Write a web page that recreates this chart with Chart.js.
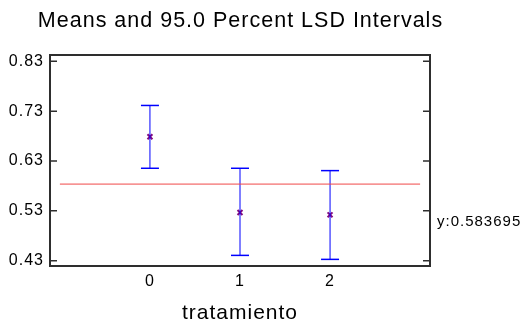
<!DOCTYPE html>
<html>
<head>
<meta charset="utf-8">
<script src="https://cdn.jsdelivr.net/npm/chart.js@4"></script>
<style>
  html, body { margin: 0; padding: 0; background: #fff; }
  #chart { display: block; }
</style>
</head>
<body>
<canvas id="chart" width="523" height="323"></canvas>
<script>
// data
const categories = ["0", "1", "2"];
const catPos = [0, 1, 2];
const means = [0.6786, 0.5267, 0.5220];
const lower = [0.6154, 0.4407, 0.4327];
const upper = [0.7414, 0.6154, 0.6107];
const grandMean = 0.583695;
const lineFrom = -1;
const lineTo = 3;
const yTicks = [0.43, 0.53, 0.63, 0.73, 0.83];
const chartTitle = "Means and 95.0 Percent LSD Intervals";

const FONT = "'Liberation Sans', Arial, sans-serif";

// error bars: one small scatter line per group, caps drawn as 'line' points
const barSets = catPos.map((x, i) => ({
    type: "scatter",
    data: [{ x: x, y: lower[i] }, { x: x, y: upper[i] }],
    showLine: true,
    borderColor: "#0000ff",
    borderWidth: 1,
    pointStyle: "line",
    pointRadius: 9,
    pointBorderColor: "#0000ff",
    pointBorderWidth: 1.5
}));

const meanSet = {
    type: "scatter",
    data: catPos.map((x, i) => ({ x: x, y: means[i] })),
    pointStyle: "crossRot",
    pointRadius: 3.5,
    pointBorderColor: "#800a80",
    pointBorderWidth: 2,
    showLine: false
};

const lineSet = {
    type: "scatter",
    data: [{ x: lineFrom, y: grandMean }, { x: lineTo, y: grandMean }],
    showLine: true,
    borderColor: "#f04848",
    borderWidth: 1,
    pointRadius: 0
};

// title over the plot, frame, inward tick marks and the value note
const framePlugin = {
    id: "frame",
    beforeUpdate(chart) {
        chart.ctx.letterSpacing = "1px";
    },
    beforeDraw(chart) {
        chart.ctx.letterSpacing = "1px";
    },
    afterDraw(chart) {
        const ctx = chart.ctx;
        const a = chart.chartArea;
        const y = chart.scales.y;
        ctx.save();
        ctx.strokeStyle = "#2e2e2e";
        ctx.lineWidth = 2;
        ctx.strokeRect(a.left, a.top, a.right - a.left, a.bottom - a.top);
        ctx.lineWidth = 1.5;
        yTicks.forEach(v => {
            const py = y.getPixelForValue(v);
            ctx.beginPath();
            ctx.moveTo(a.left, py);
            ctx.lineTo(a.left + 7, py);
            ctx.moveTo(a.right, py);
            ctx.lineTo(a.right - 7, py);
            ctx.stroke();
        });
        ctx.fillStyle = "#000";
        ctx.textBaseline = "middle";
        ctx.textAlign = "center";
        ctx.font = "21.5px " + FONT;
        ctx.fillText(chartTitle, (a.left + a.right) / 2 + 0.5, a.top - 34);
        ctx.font = "15px " + FONT;
        ctx.textAlign = "left";
        ctx.fillText("y:" + grandMean, a.right + 7, a.bottom - 44);
        ctx.restore();
    }
};

new Chart(document.getElementById("chart"), {
    type: "scatter",
    data: { datasets: [lineSet, ...barSets, meanSet] },
    plugins: [framePlugin],
    options: {
        responsive: false,
        animation: false,
        events: [],
        layout: { padding: { top: 55 } },
        plugins: {
            legend: { display: false },
            tooltip: { enabled: false },
            title: { display: false }
        },
        scales: {
            x: {
                type: "linear",
                min: -1.11,
                max: 3.11,
                grid: { display: false, drawTicks: false },
                border: { display: false },
                afterBuildTicks: s => { s.ticks = catPos.map(v => ({ value: v })); },
                afterFit: s => { s.height = 57; },
                ticks: {
                    padding: 6,
                    color: "#000",
                    font: { family: FONT, size: 16 },
                    callback: v => categories[catPos.indexOf(v)]
                },
                title: {
                    display: true,
                    text: "tratamiento",
                    color: "#000",
                    font: { family: FONT, size: 21 },
                    padding: { top: 0, bottom: -3 }
                }
            },
            y: {
                type: "linear",
                position: "left",
                min: 0.4194,
                max: 0.8426,
                grid: { display: false, drawTicks: false },
                border: { display: false },
                afterBuildTicks: s => { s.ticks = yTicks.map(v => ({ value: v })); },
                afterFit: s => { s.width = 50; },
                ticks: {
                    padding: 6,
                    color: "#000",
                    font: { family: FONT, size: 16 },
                    callback: v => v.toFixed(2)
                }
            },
            y2: {
                type: "linear",
                position: "right",
                min: 0.4194,
                max: 0.8426,
                grid: { display: false, drawTicks: false },
                border: { display: false },
                ticks: { display: false },
                afterFit: s => { s.width = 93; }
            }
        }
    }
});
</script>
</body>
</html>
